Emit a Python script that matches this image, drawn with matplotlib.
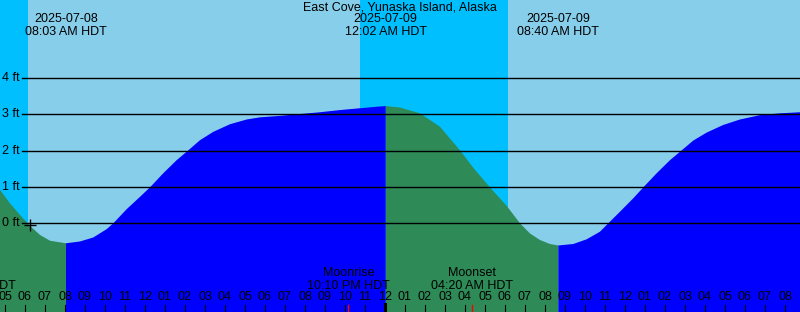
import matplotlib.pyplot as plt
import matplotlib.transforms as mtransforms

plt.rcParams['font.family'] = ['Liberation Sans', 'DejaVu Sans']

# horas relativas a la medianoche del 2025-07-09 (HDT)
horas = [-19.25, -18.75, -18.25, -17.75, -17.25, -16.75, -15.95, -15.25, -14.585,
         -13.915, -13.585, -12.915, -12.25, -11.75, -11.085, -10.415, -9.835, -9.25,
         -8.585, -7.75, -6.915, -6.25, -5.25, -4.25, -3.25, -2.25, -1.25, -0.25,
         0.033, 0.75, 1.75, 2.75, 3.75, 4.415, 5.25, 6.085, 6.75, 7.25, 7.75, 8.25,
         8.667, 9.415, 10.085, 10.75, 11.165, 11.75, 12.415, 12.915, 13.585, 14.25,
         14.835, 15.415, 16.085, 16.915, 17.75, 18.75, 19.75, 20.75]
marea = [0.92, 0.55, 0.23, -0.07, -0.32, -0.48, -0.55, -0.50, -0.39,
         -0.16, 0.0, 0.39, 0.73, 0.99, 1.38, 1.74, 2.01, 2.29,
         2.52, 2.73, 2.86, 2.92, 2.96, 3.01, 3.06, 3.12, 3.17, 3.22,
         3.23, 3.19, 3.03, 2.66, 2.01, 1.53, 0.99, 0.48, 0.0, -0.28, -0.46, -0.57,
         -0.61, -0.57, -0.44, -0.23, 0.0, 0.32, 0.69, 0.99, 1.38, 1.74,
         2.01, 2.28, 2.50, 2.71, 2.86, 2.98, 3.03, 3.06]

# extremos (bajamar / pleamar)
extremos_h = [-15.95, 0.033, 8.667]
extremos_txt = ["2025-07-08\n08:03 AM HDT", "2025-07-09\n12:02 AM HDT",
                "2025-07-09\n08:40 AM HDT"]

# noche: (inicio, fin)
noches = [(-19.25, -17.85), (-1.25, 6.15)]

# luna
luna_h = [-20.5, -1.833, 4.333]
luna_txt = ["Moonset\n03:30 AM HDT", "Moonrise\n10:10 PM HDT", "Moonset\n04:20 AM HDT"]

pies = [0, 1, 2, 3, 4]
horas_eje = list(range(-19, 21))

fig = plt.figure(figsize=(8, 3.12), dpi=100)
ax = fig.add_axes([0, 0, 1, 1])
ax.set_xlim(-19.25, 20.75)
ax.set_ylim(-2.443, 6.152)
ax.axis("off")

# fondo dia / noche
ax.axvspan(-19.25, 20.75, color="#87CEEB", lw=0, zorder=0)
for a, b in noches:
    ax.axvspan(a, b, color="#00BFFF", lw=0, zorder=0)

# relleno: bajando = verde, subiendo = azul
bajando = []
subiendo = []
for h in horas:
    bajando.append(h <= extremos_h[0] or (extremos_h[1] <= h <= extremos_h[2]))
    subiendo.append((extremos_h[0] <= h <= extremos_h[1]) or h >= extremos_h[2])
ax.fill_between(horas, -2.443, marea, where=bajando, color="#2E8B57", lw=0, zorder=1)
ax.fill_between(horas, -2.443, marea, where=subiendo, color="#0000FF", lw=0, zorder=1)

# lineas de pies
trans_y = mtransforms.blended_transform_factory(ax.transAxes, ax.transData)
for p in pies:
    ax.plot([22 / 800, 1], [p, p], color="black", lw=1, transform=trans_y, zorder=2)
    ax.text(20 / 800, p, f"{p} ft", transform=trans_y, ha="right", va="center",
            fontsize=9, zorder=3)

ax.plot(-17.75, -0.05, marker="+", color="black", ms=9, mew=1, zorder=3)

# titulo y extremos
ax.text(0.5, 1 - 8 / 312, "East Cove, Yunaska Island, Alaska", transform=ax.transAxes,
        ha="center", va="center", fontsize=9, zorder=3)
trans_x = mtransforms.blended_transform_factory(ax.transData, ax.transAxes)
for h, t in zip(extremos_h, extremos_txt):
    ax.text(h, 1 - 25.5 / 312, t, transform=trans_x, ha="center", va="center",
            fontsize=9, linespacing=1.05, zorder=3)

# eje de horas
for h in horas_eje:
    hh = (h % 24) % 12
    if hh == 0:
        hh = 12
    ax.text(h, (312 - 297.5) / 312, f"{hh:02d}", transform=trans_x, ha="center",
            va="center", fontsize=9, zorder=3)
    if h == 0:
        ax.plot([h, h], [0, 8 / 312], color="black", lw=2.2, transform=trans_x, zorder=3)
    else:
        ax.plot([h, h], [0, 7 / 312], color="black", lw=0.8, transform=trans_x, zorder=3)

for h, t in zip(luna_h, luna_txt):
    txt = ax.text(h, (312 - 279.5) / 312, t, transform=trans_x, ha="center", va="center",
                  fontsize=9, linespacing=1.05, zorder=3)
    txt.set_clip_on(True)
    ax.plot([h, h], [0, 7 / 312], color="red", lw=1, transform=trans_x, zorder=4)

plt.savefig("out.png", dpi=100)
